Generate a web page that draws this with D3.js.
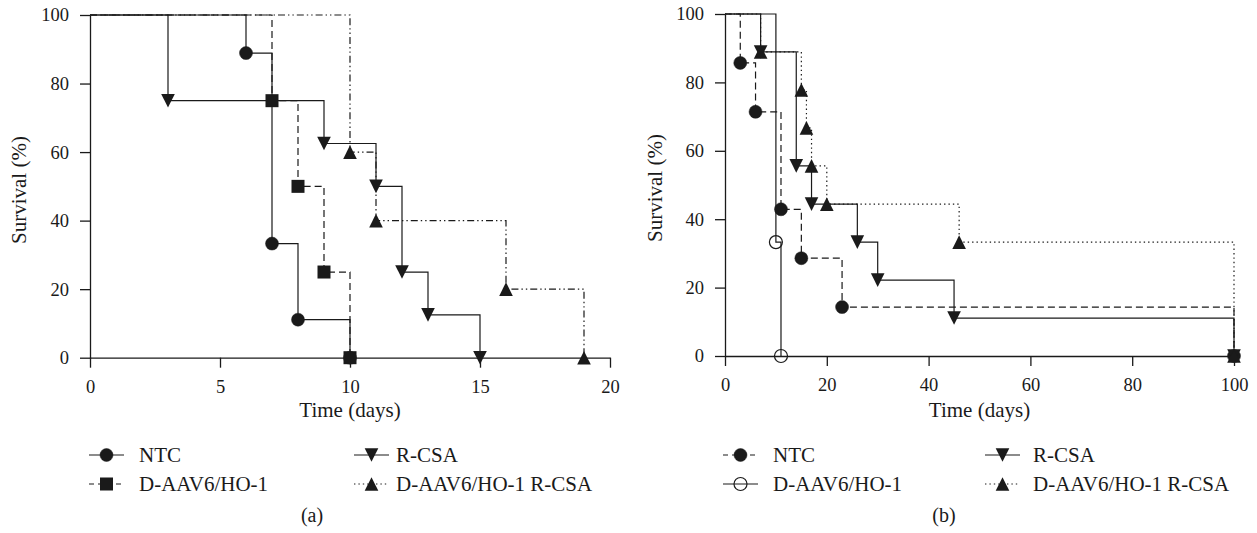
<!DOCTYPE html>
<html><head><meta charset="utf-8">
<script src="https://cdn.jsdelivr.net/npm/d3@7"></script>
<style>body{margin:0;background:#fff}</style>
</head><body><svg id="c" width="1257" height="533"></svg>
<script>
// ---------- data ----------
const seriesNames = ["NTC", "D-AAV6/HO-1", "R-CSA", "D-AAV6/HO-1 R-CSA"];

// panel (a)
const aTicksX = [0, 5, 10, 15, 20];
const aTicksY = [0, 20, 40, 60, 80, 100];
const aNTC_t = [0, 6, 7, 8, 10];
const aNTC_s = [100, 88.9, 33.3, 11.1, 0];
const aAAV_t = [0, 7, 8, 9, 10];
const aAAV_s = [100, 75, 50, 25, 0];
const aRCSA_t = [0, 3, 9, 11, 12, 13, 15];
const aRCSA_s = [100, 75, 62.5, 50, 25, 12.5, 0];
const aCombo_t = [0, 10, 11, 16, 19];
const aCombo_s = [100, 60, 40, 20, 0];

// panel (b)
const bTicksX = [0, 20, 40, 60, 80, 100];
const bTicksY = [0, 20, 40, 60, 80, 100];
const bNTC_t = [0, 3, 6, 11, 15, 23, 100];
const bNTC_s = [100, 85.7, 71.4, 42.9, 28.6, 14.3, 0];
const bAAV_t = [0, 10, 11];
const bAAV_s = [100, 33.3, 0];
const bRCSA_t = [0, 7, 14, 17, 26, 30, 45, 100];
const bRCSA_s = [100, 88.9, 55.6, 44.4, 33.3, 22.2, 11.1, 0];
const bCombo_t = [0, 7, 15, 16, 17, 20, 46, 100];
const bCombo_s = [100, 88.9, 77.8, 66.7, 55.6, 44.4, 33.3, 0];

// ---------- styles ----------
const DASH = "7,4";
const DOT = "1.4,3";
const DASHDOTDOT = "7,3,1.4,3,1.4,3";
const INK = "#1a1a1a";
const FONT = "'Liberation Serif','Times New Roman',serif";

const svg = d3.select("#c");

function marker(g, type, x, y) {
  const s = 6.8;
  if (type === "circle" || type === "ocircle") {
    g.append("circle").attr("cx", x).attr("cy", y).attr("r", 6.5)
      .attr("fill", type === "circle" ? INK : "none")
      .attr("stroke", INK).attr("stroke-width", type === "circle" ? 0.5 : 1.2);
  } else if (type === "square") {
    g.append("rect").attr("x", x - 6.5).attr("y", y - 6.5).attr("width", 13).attr("height", 13)
      .attr("fill", INK);
  } else if (type === "down") {
    g.append("path").attr("d", `M${x - s},${y - s}L${x + s},${y - s}L${x},${y + s}Z`).attr("fill", INK);
  } else if (type === "up") {
    g.append("path").attr("d", `M${x - s},${y + s}L${x + s},${y + s}L${x},${y - s}Z`).attr("fill", INK);
  }
}

function panel(cfg) {
  const x = d3.scaleLinear().domain([0, cfg.xMax]).range([cfg.x0, cfg.x1]);
  const y = d3.scaleLinear().domain([0, 100]).range([cfg.y0, cfg.y1]);
  const g = svg.append("g");

  // axes
  const ax = g.append("g").attr("transform", `translate(0,${cfg.y0})`)
    .call(d3.axisBottom(x).tickValues(cfg.ticksX).tickSize(10).tickSizeOuter(0).tickPadding(12));
  const ay = g.append("g").attr("transform", `translate(${cfg.x0},0)`)
    .call(d3.axisLeft(y).tickValues(cfg.ticksY).tickSize(10).tickSizeOuter(0).tickPadding(11));
  [ax, ay].forEach(a => {
    a.selectAll("path,line").attr("stroke", INK).attr("stroke-width", 1.3);
    a.selectAll("text").attr("font-family", FONT).attr("font-size", 18.5).attr("fill", INK);
  });

  // series
  const line = d3.line().x(d => x(d[0])).y(d => y(d[1])).curve(d3.curveStepAfter);
  cfg.series.forEach(s => {
    const pts = s.t.map((t, i) => [t, s.s[i]]);
    g.append("path").attr("d", line(pts)).attr("fill", "none")
      .attr("stroke", INK).attr("stroke-width", 1.2)
      .attr("stroke-dasharray", s.dash || null);
  });
  cfg.series.forEach(s => {
    s.t.forEach((t, i) => { if (i > 0) marker(g, s.marker, x(t), y(s.s[i])); });
  });

  // axis titles
  g.append("text").attr("x", (cfg.x0 + cfg.x1) / 2).attr("y", 417).attr("text-anchor", "middle")
    .attr("font-family", FONT).attr("font-size", 21).attr("fill", INK).text("Time (days)");
  g.append("text").attr("transform", `translate(${cfg.yTitleX},${cfg.yTitleY}) rotate(-90)`)
    .attr("text-anchor", "middle").attr("font-family", FONT).attr("font-size", 21).attr("fill", INK)
    .text("Survival (%)");

  // legend
  const rows = [455, 484];
  cfg.series.forEach((s, i) => {
    const col = i % 2 === 0 ? 0 : 1;
    const row = i < 2 ? 0 : 1;
    // order: NTC (c0 r0), R-CSA (c1 r0), D-AAV6 (c0 r1), combo (c1 r1)
  });
  const layout = [[0, 0], [0, 1], [1, 0], [1, 1]]; // [col,row] per series index
  cfg.series.forEach((s, i) => {
    const [col, row] = layout[i];
    const L = cfg.legend[col];
    const yy = rows[row];
    g.append("line").attr("x1", L.l0).attr("x2", L.l1).attr("y1", yy).attr("y2", yy)
      .attr("stroke", INK).attr("stroke-width", 1.2).attr("stroke-dasharray", s.legendDash || null);
    marker(g, s.marker, (L.l0 + L.l1) / 2, yy);
    g.append("text").attr("x", L.tx).attr("y", yy + 7).attr("font-family", FONT)
      .attr("font-size", 21).attr("fill", INK).text(seriesNames[i]);
  });

  g.append("text").attr("x", cfg.capX).attr("y", 522).attr("text-anchor", "middle")
    .attr("font-family", FONT).attr("font-size", 20).attr("fill", INK).text(cfg.caption);
}

panel({
  x0: 90, x1: 610, y0: 357.7, y1: 15, xMax: 20,
  ticksX: aTicksX, ticksY: aTicksY,
  yTitleX: 26, yTitleY: 190,
  series: [
    { t: aNTC_t, s: aNTC_s, marker: "circle", dash: null, legendDash: null },
    { t: aAAV_t, s: aAAV_s, marker: "square", dash: DASH, legendDash: "5,4" },
    { t: aRCSA_t, s: aRCSA_s, marker: "down", dash: null, legendDash: null },
    { t: aCombo_t, s: aCombo_s, marker: "up", dash: DASHDOTDOT, legendDash: DOT }
  ],
  legend: [{ l0: 89, l1: 124, tx: 139 }, { l0: 354, l1: 389, tx: 396 }],
  capX: 312, caption: "(a)"
});

panel({
  x0: 725, x1: 1234, y0: 356, y1: 14, xMax: 100,
  ticksX: bTicksX, ticksY: bTicksY,
  yTitleX: 662, yTitleY: 188,
  series: [
    { t: bNTC_t, s: bNTC_s, marker: "circle", dash: DASH, legendDash: "5,4" },
    { t: bAAV_t, s: bAAV_s, marker: "ocircle", dash: null, legendDash: null },
    { t: bRCSA_t, s: bRCSA_s, marker: "down", dash: null, legendDash: null },
    { t: bCombo_t, s: bCombo_s, marker: "up", dash: DOT, legendDash: DOT }
  ],
  legend: [{ l0: 723, l1: 758, tx: 773 }, { l0: 985, l1: 1020, tx: 1033 }],
  capX: 944, caption: "(b)"
});
</script></body></html>
